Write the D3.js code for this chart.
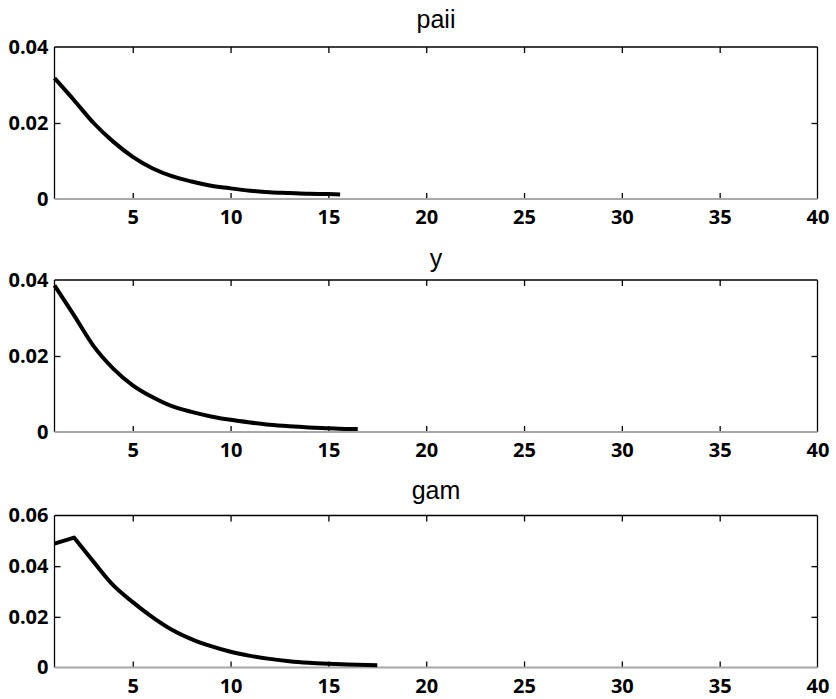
<!DOCTYPE html>
<html>
<head>
<meta charset="utf-8">
<script src="https://cdn.jsdelivr.net/npm/d3@7"></script>
<style>
  body { margin: 0; background: #fff; }
  .tick text { font-family: "Open Sans", sans-serif; font-weight: 700; font-size: 20px; fill: #000; }
  .ttl { font-family: "Liberation Sans", Arial, sans-serif; font-size: 25px; fill: #000; }
</style>
</head>
<body>
<div id="chart"></div>
<script>
// impulse responses
const titles = ["paii", "y", "gam"]

const paiiX = [1, 2, 3, 4, 5, 6, 7, 8, 9, 10, 11, 12, 13, 14, 15, 15.6]
const paiiY = [0.0318, 0.0260, 0.0200, 0.0151, 0.0111, 0.0081, 0.0060, 0.0046, 0.0035, 0.0028, 0.0022, 0.0018, 0.0016, 0.0014, 0.0013, 0.0012]

const yX = [1, 2, 3, 4, 5, 6, 7, 8, 9, 10, 11, 12, 13, 14, 15, 16, 16.5]
const yY = [0.0386, 0.0307, 0.0226, 0.0167, 0.0123, 0.0092, 0.0068, 0.0053, 0.0041, 0.0032, 0.0025, 0.0019, 0.0015, 0.0012, 0.0010, 0.0008, 0.0008]

const gamX = [1, 2, 3, 4, 5, 6, 7, 8, 9, 10, 11, 12, 13, 14, 15, 16, 17, 17.5]
const gamY = [0.0489, 0.0513, 0.0417, 0.0325, 0.0258, 0.0199, 0.0149, 0.0112, 0.0084, 0.0062, 0.0046, 0.0034, 0.0025, 0.0019, 0.0015, 0.0012, 0.0010, 0.0009]

const xTicks = [5, 10, 15, 20, 25, 30, 35, 40]
const yTicksA = [0, 0.02, 0.04]
const yTicksB = [0, 0.02, 0.04, 0.06]
const yMax = [0.04, 0.04, 0.06]

// index of the sharp corner in each series (0 = none)
const peakAt = [0, 0, 1]

const series = [
  {x: paiiX, y: paiiY, ticks: yTicksA},
  {x: yX, y: yY, ticks: yTicksA},
  {x: gamX, y: gamY, ticks: yTicksB}
]

var W = 836, H = 699
var left = 54.5, right = 817.5
var panelH = 152
var tops = [47, 280, 515.5]
var titleGap = [19, 13.5, 17]

var svg = d3.select("#chart").append("svg")
    .attr("width", W)
    .attr("height", H)

const x = d3.scaleLinear().domain([1, 40]).range([left, right])

series.forEach(function(s, i) {
    var g = svg.append("g").attr("transform", `translate(0, ${tops[i]})`)

    const y = d3.scaleLinear().domain([0, yMax[i]]).range([panelH, 0])
    const fmt = d => d == 0 ? "0" : d3.format(".2f")(d)

    // bottom axis with labels, inward ticks
    var bot = g.append("g")
        .attr("transform", `translate(0, ${panelH})`)
        .call(d3.axisBottom(x).tickValues(xTicks).tickSize(-6).tickPadding(11))
    bot.select(".domain").remove()
    bot.selectAll(".tick line").attr("stroke", "#000").attr("stroke-width", 1.3)
    bot.selectAll(".tick").filter(d => d == 40).select("line").remove()

    // top ticks
    var top = g.append("g")
        .call(d3.axisTop(x).tickValues(xTicks.filter(d => d < 40)).tickSize(-6).tickFormat(""))
    top.select(".domain").remove()
    top.selectAll(".tick line").attr("stroke", "#000").attr("stroke-width", 1.3)

    // left axis
    var lft = g.append("g")
        .attr("transform", `translate(${left}, 0)`)
        .call(d3.axisLeft(y).tickValues(s.ticks).tickSize(-6).tickPadding(6).tickFormat(fmt))
    lft.select(".domain").remove()
    lft.selectAll(".tick line").attr("stroke", "#000").attr("stroke-width", 1.3)
    lft.selectAll(".tick").filter(d => d == 0 || d == yMax[i]).select("line").remove()

    // right ticks
    var rgt = g.append("g")
        .attr("transform", `translate(${right}, 0)`)
        .call(d3.axisRight(y).tickValues(s.ticks.filter(d => d > 0 && d < yMax[i])).tickSize(-6).tickFormat(""))
    rgt.select(".domain").remove()
    rgt.selectAll(".tick line").attr("stroke", "#000").attr("stroke-width", 1.3)

    // frame
    g.append("line").attr("x1", left).attr("x2", right).attr("y1", 0).attr("y2", 0)
        .attr("stroke", "#000").attr("stroke-width", 1.5)
    g.append("line").attr("x1", left).attr("x2", left).attr("y1", 0).attr("y2", panelH)
        .attr("stroke", "#000").attr("stroke-width", 1.3)
    g.append("line").attr("x1", right).attr("x2", right).attr("y1", 0).attr("y2", panelH)
        .attr("stroke", "#000").attr("stroke-width", 1.3)
    g.append("line").attr("x1", left).attr("x2", right).attr("y1", panelH).attr("y2", panelH)
        .attr("stroke", "#a8a8a8").attr("stroke-width", 2)

    // curve: straight up to the corner, smooth after it
    var pts = s.x.map((v, k) => [v, s.y[k]])
    var k0 = peakAt[i]
    var lineLin = d3.line().x(d => x(d[0])).y(d => y(d[1]))
    var lineSmooth = d3.line().x(d => x(d[0])).y(d => y(d[1])).curve(d3.curveMonotoneX)
    var d = (k0 > 0 ? lineLin(pts.slice(0, k0 + 1)) : "") +
        (k0 > 0 ? lineSmooth(pts.slice(k0)).replace(/^M/, "L") : lineSmooth(pts))
    g.append("path")
        .attr("fill", "none")
        .attr("stroke", "#000")
        .attr("stroke-width", 4)
        .attr("stroke-linejoin", "round")
        .attr("d", d)

    g.append("text")
        .attr("class", "ttl")
        .attr("x", (left + right) / 2)
        .attr("y", -titleGap[i])
        .attr("text-anchor", "middle")
        .text(titles[i])
})
</script>
</body>
</html>
